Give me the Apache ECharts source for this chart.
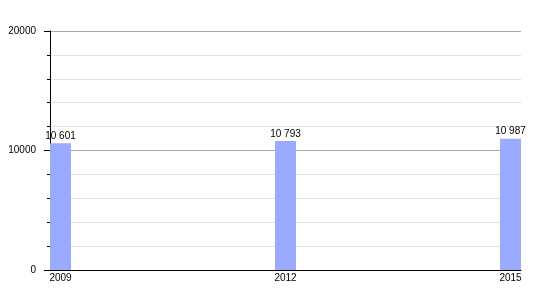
<!DOCTYPE html>
<html><head><meta charset="utf-8">
<script src="https://cdn.jsdelivr.net/npm/echarts@6/dist/echarts.min.js"></script>
<style>html,body{margin:0;padding:0;background:#fff}#c{width:550px;height:300px}</style>
</head><body><div id="c"></div>
<script>
var years = [2009, 2012, 2015];
var population = [10601, 10793, 10987];
var yTicks = [0, 10000, 20000];

function fmt(v){ return String(v).replace(/\B(?=(\d{3})+(?!\d))/g, ' '); }

var chart = echarts.init(document.getElementById('c'), null, {renderer:'canvas'});
chart.setOption({
  animation:false,
  grid:{left:50, right:29, top:31, bottom:30, containLabel:false},
  xAxis:{
    type:'value', min:2008.86, max:2015.14,
    axisLine:{show:true, onZero:false, lineStyle:{color:'#000', width:1}},
    axisTick:{show:false},
    splitLine:{show:false},
    axisLabel:{customValues:years, color:'#000', fontSize:10, fontFamily:'Liberation Sans, Arial', margin:3,
      formatter:function(v){return String(v);}}
  },
  yAxis:{
    type:'value', min:yTicks[0], max:yTicks[2], interval:10000,
    axisLine:{show:true, lineStyle:{color:'#000', width:1}},
    axisTick:{show:true, length:6, lineStyle:{color:'#000'}},
    minorTick:{show:true, splitNumber:5, length:3, lineStyle:{color:'#000'}},
    splitLine:{show:true, lineStyle:{color:'#aaaaaa', width:1}},
    minorSplitLine:{show:true, lineStyle:{color:'#e2e2e2', width:1}},
    axisLabel:{color:'#000', fontSize:10, fontFamily:'Liberation Sans, Arial', margin:14,
      formatter:function(v){return String(v);}}
  },
  series:[{
    type:'bar',
    barWidth:21,
    data: years.map(function(y,i){return [y, population[i]];}),
    itemStyle:{color:'#99aaff'},
    label:{show:true, position:'top', distance:2, color:'#000', fontSize:10, fontFamily:'Liberation Sans, Arial',
      formatter:function(p){return fmt(p.value[1]);}}
  }]
});
</script></body></html>
